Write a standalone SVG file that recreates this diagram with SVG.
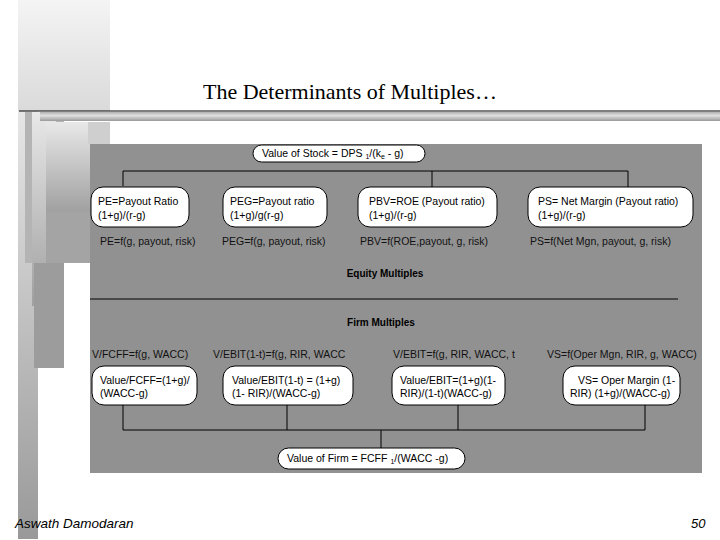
<svg xmlns="http://www.w3.org/2000/svg" width="720" height="540" viewBox="0 0 720 540">
<defs>
<linearGradient id="gTop" x1="0" y1="0" x2="0" y2="1"><stop offset="0" stop-color="#f4f4f4"/><stop offset="1" stop-color="#dadada"/></linearGradient>
<linearGradient id="gStrip" x1="0" y1="0" x2="0" y2="1"><stop offset="0" stop-color="#e6e6e6"/><stop offset="1" stop-color="#999"/></linearGradient>
<linearGradient id="gBar" x1="0" y1="0" x2="0" y2="1"><stop offset="0" stop-color="#b0b0b0"/><stop offset="0.4" stop-color="#e0e0e0"/><stop offset="1" stop-color="#9a9a9a"/></linearGradient>
<linearGradient id="gMid" x1="0" y1="0" x2="0" y2="1"><stop offset="0" stop-color="#e8e8e8"/><stop offset="1" stop-color="#a0a0a0"/></linearGradient>
</defs>
<style>
.box{fill:#fff;stroke:#000;stroke-width:1}
.ln{stroke:#000;stroke-width:1;fill:none}
.t{font-family:"Liberation Sans",Arial,sans-serif;font-size:10.5px;fill:#000}
.w{font-family:"Liberation Sans",Arial,sans-serif;font-size:10.5px;fill:#111}
.b{font-family:"Liberation Sans",Arial,sans-serif;font-size:10px;font-weight:bold;fill:#000;text-anchor:middle}
</style>
<rect width="720" height="540" fill="#fff"/>
<!-- decoration -->
<rect x="18" y="0" width="92" height="111" fill="url(#gTop)"/>
<rect x="18" y="111" width="20" height="428" fill="url(#gStrip)"/>
<rect x="25" y="112" width="39" height="151" fill="#b4b4b4"/>
<rect x="32" y="112" width="24" height="194" fill="url(#gMid)"/>
<rect x="46" y="122" width="44" height="90" fill="url(#gMid)"/>
<rect x="46" y="212" width="44" height="51" fill="#a4a4a4"/>
<rect x="34" y="263" width="30" height="105" fill="#9c9c9c"/>
<rect x="88" y="122" width="22" height="22" fill="#cfcfcf"/>
<line x1="19" y1="111" x2="720" y2="111" stroke="#000" stroke-width="1.2"/>
<rect x="40" y="112" width="680" height="9" fill="url(#gBar)"/>
<text x="203" y="99" font-family="'Liberation Serif','Times New Roman',serif" font-size="22" fill="#000">The Determinants of Multiples…</text>
<!-- panel -->
<rect x="90" y="144" width="612" height="329" fill="#919191"/>
<g id="connectors">
<path class="ln" d="M123 186 V171 H628 V187 M432 171 V187"/>
<line class="ln" x1="90" y1="299" x2="678" y2="299"/>
<path class="ln" d="M123 405 V430 H645 V405 M287 405 V430 M458 405 V430 M381 430 V448"/>
</g>
<g id="top-node">
<rect class="box" x="253" y="145" width="172" height="17" rx="8.5"/>
<text class="t" x="262" y="157">Value of Stock = DPS <tspan font-size="7" dy="2">1</tspan><tspan dy="-2">/(k</tspan><tspan font-size="7" dy="2">e</tspan><tspan dy="-2"> - g)</tspan></text>
</g>
<g id="pe">
<rect class="box" x="91" y="187" width="98" height="40" rx="12"/>
<text class="t" x="98" y="205">PE=Payout Ratio</text>
<text class="t" x="98" y="219">(1+g)/(r-g)</text>
</g>
<g id="peg">
<rect class="box" x="223" y="187" width="104" height="40" rx="12"/>
<text class="t" x="230" y="205">PEG=Payout ratio</text>
<text class="t" x="230" y="219">(1+g)/g(r-g)</text>
</g>
<g id="pbv">
<rect class="box" x="358" y="187" width="139" height="40" rx="12"/>
<text class="t" x="369" y="205">PBV=ROE (Payout ratio)</text>
<text class="t" x="369" y="219">(1+g)/(r-g)</text>
</g>
<g id="ps">
<rect class="box" x="528" y="187" width="165" height="40" rx="12"/>
<text class="t" x="538" y="205">PS= Net Margin (Payout ratio)</text>
<text class="t" x="538" y="219">(1+g)/(r-g)</text>
</g>
<g id="equity-labels">
<text class="w" x="100" y="245">PE=f(g, payout, risk)</text>
<text class="w" x="222" y="245">PEG=f(g, payout, risk)</text>
<text class="w" x="360" y="245">PBV=f(ROE,payout, g, risk)</text>
<text class="w" x="530" y="245">PS=f(Net Mgn, payout, g, risk)</text>
</g>
<text class="b" x="385" y="277">Equity Multiples</text>
<text class="b" x="381" y="326">Firm Multiples</text>
<g id="firm-labels">
<text class="w" x="92" y="358">V/FCFF=f(g, WACC)</text>
<text class="w" x="213" y="358">V/EBIT(1-t)=f(g, RIR, WACC</text>
<text class="w" x="393" y="358">V/EBIT=f(g, RIR, WACC, t</text>
<text class="w" x="547" y="358">VS=f(Oper Mgn, RIR, g, WACC)</text>
</g>
<g id="fcff">
<rect class="box" x="92" y="366" width="105" height="39" rx="12"/>
<text class="t" x="100" y="384">Value/FCFF=(1+g)/</text>
<text class="t" x="100" y="397">(WACC-g)</text>
</g>
<g id="ebit1t">
<rect class="box" x="223" y="366" width="130" height="39" rx="12"/>
<text class="t" x="232" y="384">Value/EBIT(1-t) = (1+g)</text>
<text class="t" x="232" y="397">(1- RIR)/(WACC-g)</text>
</g>
<g id="ebit">
<rect class="box" x="392" y="366" width="113" height="39" rx="12"/>
<text class="t" x="400" y="384">Value/EBIT=(1+g)(1-</text>
<text class="t" x="400" y="397">RIR)/(1-t)(WACC-g)</text>
</g>
<g id="vs">
<rect class="box" x="563" y="366" width="117" height="39" rx="12"/>
<text class="t" x="578" y="384">VS= Oper Margin (1-</text>
<text class="t" x="570" y="397">RIR) (1+g)/(WACC-g)</text>
</g>
<g id="firm-node">
<rect class="box" x="278" y="448" width="187" height="21" rx="10.5"/>
<text class="t" x="287" y="462">Value of Firm = FCFF <tspan font-size="7" dy="2">1</tspan><tspan dy="-2">/(WACC -g)</tspan></text>
</g>
<text x="15" y="528" font-family="'Liberation Sans',Arial,sans-serif" font-size="13.5" font-style="italic" fill="#000">Aswath Damodaran</text>
<text x="691" y="528" font-family="'Liberation Sans',Arial,sans-serif" font-size="13" font-style="italic" fill="#000">50</text>
</svg>
